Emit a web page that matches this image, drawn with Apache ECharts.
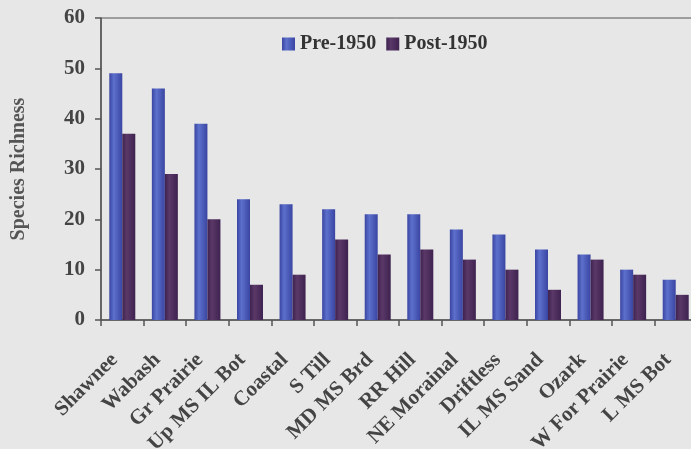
<!DOCTYPE html>
<html>
<head>
<meta charset="utf-8">
<script src="https://cdn.jsdelivr.net/npm/echarts@6/dist/echarts.min.js"></script>
<style>
  html, body { margin: 0; padding: 0; background: #e6e7e6; }
  #chart { width: 691px; height: 449px; }
</style>
</head>
<body>
<div id="chart"></div>
<script>
var categories = ['Shawnee', 'Wabash', 'Gr Prairie', 'Up MS IL Bot', 'Coastal', 'S Till', 'MD MS Brd',
  'RR Hill', 'NE Morainal', 'Driftless', 'IL MS Sand', 'Ozark', 'W For Prairie', 'L MS Bot'];
var pre1950 = [49, 46, 39, 24, 23, 22, 21, 21, 18, 17, 14, 13, 10, 8];
var post1950 = [37, 29, 20, 7, 9, 16, 13, 14, 12, 10, 6, 12, 9, 5];

var serif = '"Liberation Serif", "DejaVu Serif", serif';

function stripe(dark, light) {
    return new echarts.graphic.LinearGradient(0, 0, 1, 0, [
        { offset: 0, color: dark },
        { offset: 0.35, color: light },
        { offset: 1, color: dark }
    ]);
}

var myChart = echarts.init(document.getElementById('chart'));
var option = {
    backgroundColor: '#e6e7e6',
    animation: false,
    legend: {
        top: 29,
        left: 277,
        icon: 'rect',
        itemWidth: 13,
        itemHeight: 13,
        itemGap: 10,
        textStyle: { fontFamily: serif, fontWeight: 'bold', fontSize: 20, color: '#333' },
        data: ['Pre-1950', 'Post-1950']
    },
    grid: {
        left: 101,
        right: -6,
        top: 18,
        bottom: 129,
        outerBoundsMode: 'none',
        containLabel: false,
        show: true,
        borderColor: '#555',
        borderWidth: 1
    },
    xAxis: {
        type: 'category',
        data: categories,
        axisLine: { lineStyle: { color: '#555', width: 1.5 } },
        axisTick: { show: true, length: 6, lineStyle: { color: '#555', width: 1.5 } },
        axisLabel: {
            rotate: 45,
            interval: 0,
            margin: 29,
            padding: [0, 11, 0, 0],
            fontFamily: serif,
            fontWeight: 'bold',
            fontSize: 21,
            color: '#444'
        }
    },
    yAxis: {
        type: 'value',
        min: 0,
        max: 60,
        interval: 10,
        name: 'Species Richness',
        nameLocation: 'middle',
        nameGap: 72,
        nameTextStyle: { fontFamily: serif, fontSize: 20, fontWeight: 'bold', color: '#555' },
        splitLine: { show: false },
        axisLine: { show: true, lineStyle: { color: '#555', width: 1.5 } },
        axisTick: { show: true, length: 6, lineStyle: { color: '#555', width: 1.5 } },
        axisLabel: {
            margin: 16,
            fontFamily: serif,
            fontWeight: 'bold',
            fontSize: 21,
            color: '#444'
        }
    },
    series: [{
        name: 'Pre-1950',
        type: 'bar',
        barWidth: 13,
        barGap: '0%',
        itemStyle: { color: stripe('#3a45a2', '#5c70cc') },
        data: pre1950
    }, {
        name: 'Post-1950',
        type: 'bar',
        barWidth: 13,
        itemStyle: { color: stripe('#3e2250', '#5a3868') },
        data: post1950
    }]
};
myChart.setOption(option);
</script>
</body>
</html>
